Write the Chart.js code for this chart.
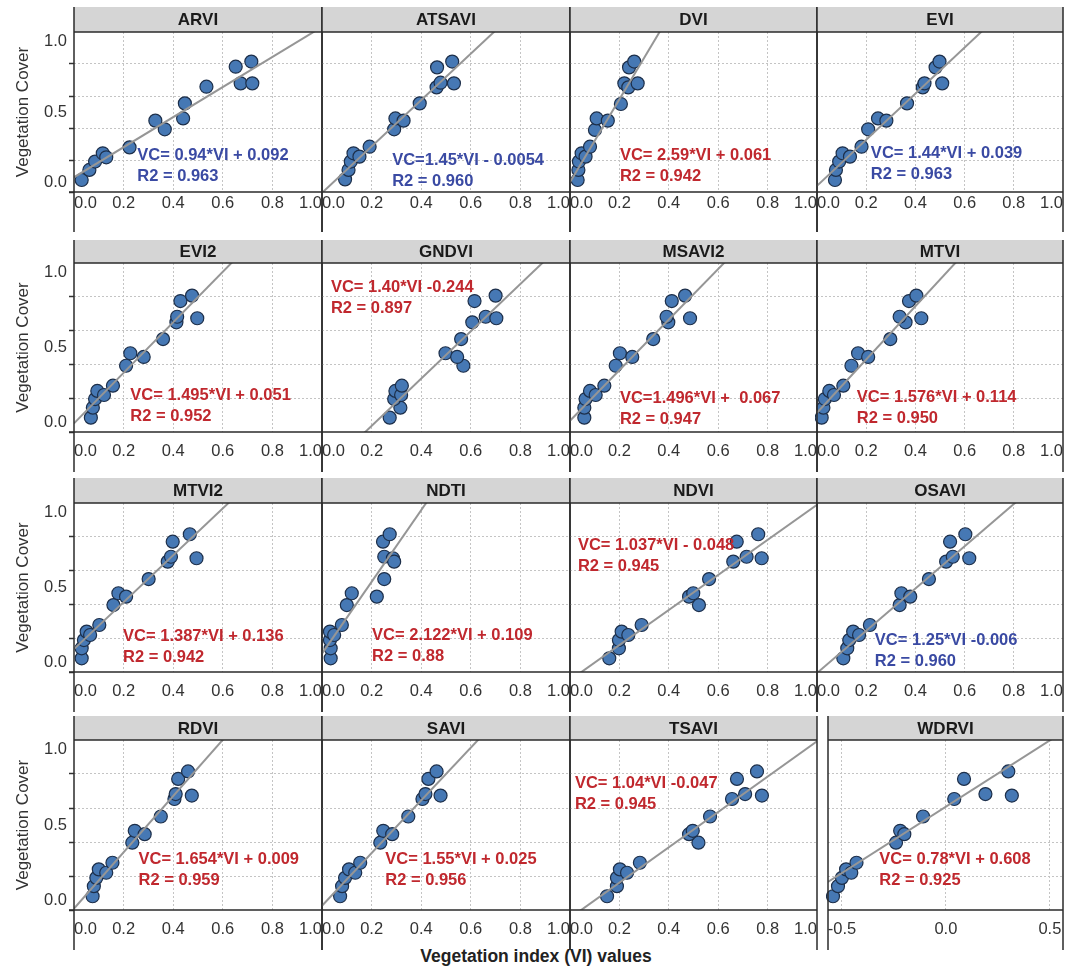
<!DOCTYPE html>
<html>
<head>
<meta charset="utf-8">
<script src="https://cdn.jsdelivr.net/npm/chart.js@4.4.1/dist/chart.umd.min.js"></script>
<style>
  body { margin: 0; background: #fff; width: 1072px; height: 970px; position: relative; overflow: hidden; }
  canvas { position: absolute; }
  #xtitle { position: absolute; left: 0; width: 1072px; top: 946px; text-align: center;
            font: bold 17.5px "Liberation Sans", Arial, sans-serif; color: #222; }
</style>
</head>
<body>
<div id="xtitle">Vegetation index (VI) values</div>
<script>
// panels, fitted equations
const panelNames = ['ARVI', 'ATSAVI', 'DVI', 'EVI', 'EVI2', 'GNDVI', 'MSAVI2', 'MTVI',
                    'MTVI2', 'NDTI', 'NDVI', 'OSAVI', 'RDVI', 'SAVI', 'TSAVI', 'WDRVI'];
const slopes = [0.94, 1.45, 2.59, 1.44, 1.495, 1.40, 1.496, 1.576, 1.387, 2.122, 1.037, 1.25, 1.654, 1.55, 1.04, 0.78];
const intercepts = [0.092, -0.0054, 0.061, 0.039, 0.051, -0.244, 0.067, 0.114, 0.136, 0.109, -0.048, -0.006, 0.009, 0.025, -0.047, 0.608];
const equations = ['VC= 0.94*VI + 0.092', 'VC=1.45*VI - 0.0054', 'VC= 2.59*VI + 0.061', 'VC= 1.44*VI + 0.039',
                   'VC= 1.495*VI + 0.051', 'VC= 1.40*VI -0.244', 'VC=1.496*VI +  0.067', 'VC= 1.576*VI + 0.114',
                   'VC= 1.387*VI + 0.136', 'VC= 2.122*VI + 0.109', 'VC= 1.037*VI - 0.048', 'VC= 1.25*VI -0.006',
                   'VC= 1.654*VI + 0.009', 'VC= 1.55*VI + 0.025', 'VC= 1.04*VI -0.047', 'VC= 0.78*VI + 0.608'];
const r2Values = ['0.963', '0.960', '0.942', '0.963', '0.952', '0.897', '0.947', '0.950',
                  '0.942', '0.88', '0.945', '0.960', '0.959', '0.956', '0.945', '0.925'];
const bluePanels = ['ARVI', 'ATSAVI', 'EVI', 'OSAVI'];

// tick labels
const xTicksUnit = [0, 0.2, 0.4, 0.6, 0.8, 1.0];
const xTicksWDRVI = [-0.5, 0, 0.5];
const yTicks = [0, 0.2, 0.4, 0.5, 0.6, 0.8, 1.0];

// points: vegetation index / vegetation cover
const ARVI_VI = [0.031, 0.062, 0.085, 0.116, 0.13, 0.224, 0.328, 0.366, 0.44, 0.447, 0.534, 0.652, 0.672, 0.715, 0.719];
const ARVI_VC = [0.075, 0.138, 0.19, 0.242, 0.217, 0.279, 0.446, 0.392, 0.46, 0.554, 0.658, 0.783, 0.679, 0.815, 0.679];
const ATSAVI_VI = [0.093, 0.107, 0.116, 0.127, 0.151, 0.192, 0.291, 0.296, 0.329, 0.394, 0.462, 0.478, 0.464, 0.525, 0.532];
const ATSAVI_VC = [0.079, 0.138, 0.19, 0.242, 0.221, 0.283, 0.392, 0.46, 0.446, 0.554, 0.654, 0.683, 0.779, 0.815, 0.679];
const DVI_VI = [0.031, 0.034, 0.036, 0.047, 0.063, 0.081, 0.101, 0.108, 0.153, 0.206, 0.22, 0.236, 0.239, 0.26, 0.274];
const DVI_VC = [0.075, 0.138, 0.19, 0.242, 0.221, 0.283, 0.388, 0.46, 0.446, 0.55, 0.679, 0.654, 0.779, 0.815, 0.679];
const EVI_VI = [0.073, 0.077, 0.09, 0.104, 0.134, 0.181, 0.208, 0.248, 0.282, 0.366, 0.43, 0.437, 0.482, 0.498, 0.509];
const EVI_VC = [0.075, 0.138, 0.19, 0.242, 0.221, 0.283, 0.392, 0.46, 0.446, 0.554, 0.654, 0.679, 0.779, 0.815, 0.679];
const EVI2_VI = [0.068, 0.076, 0.085, 0.094, 0.121, 0.157, 0.21, 0.227, 0.281, 0.359, 0.413, 0.416, 0.429, 0.476, 0.497];
const EVI2_VC = [0.085, 0.144, 0.195, 0.243, 0.219, 0.274, 0.392, 0.466, 0.444, 0.55, 0.649, 0.682, 0.775, 0.807, 0.673];
const GNDVI_VI = [0.273, 0.316, 0.291, 0.296, 0.319, 0.322, 0.57, 0.498, 0.545, 0.561, 0.606, 0.66, 0.615, 0.70, 0.703];
const GNDVI_VC = [0.085, 0.144, 0.195, 0.243, 0.219, 0.274, 0.392, 0.466, 0.444, 0.55, 0.649, 0.682, 0.775, 0.807, 0.673];
const MSAVI2_VI = [0.058, 0.058, 0.063, 0.081, 0.104, 0.139, 0.185, 0.202, 0.252, 0.337, 0.398, 0.391, 0.412, 0.466, 0.486];
const MSAVI2_VC = [0.085, 0.144, 0.195, 0.243, 0.219, 0.274, 0.392, 0.466, 0.444, 0.55, 0.649, 0.682, 0.775, 0.807, 0.673];
const MTVI_VI = [0.019, 0.026, 0.032, 0.05, 0.069, 0.107, 0.14, 0.167, 0.208, 0.298, 0.36, 0.336, 0.374, 0.404, 0.424];
const MTVI_VC = [0.085, 0.144, 0.195, 0.243, 0.219, 0.274, 0.392, 0.466, 0.444, 0.55, 0.649, 0.682, 0.775, 0.807, 0.673];
const MTVI2_VI = [0.031, 0.031, 0.04, 0.051, 0.065, 0.102, 0.159, 0.179, 0.21, 0.301, 0.378, 0.391, 0.398, 0.467, 0.494];
const MTVI2_VC = [0.081, 0.14, 0.189, 0.239, 0.219, 0.278, 0.396, 0.466, 0.446, 0.55, 0.653, 0.682, 0.771, 0.815, 0.673];
const NDTI_VI = [0.035, 0.035, 0.032, 0.032, 0.049, 0.08, 0.1, 0.12, 0.221, 0.251, 0.251, 0.286, 0.291, 0.246, 0.273];
const NDTI_VC = [0.081, 0.14, 0.189, 0.239, 0.219, 0.278, 0.396, 0.466, 0.446, 0.55, 0.682, 0.673, 0.653, 0.771, 0.815];
const NDVI_VI = [0.159, 0.198, 0.198, 0.209, 0.236, 0.29, 0.522, 0.482, 0.499, 0.563, 0.661, 0.715, 0.675, 0.762, 0.776];
const NDVI_VC = [0.081, 0.14, 0.189, 0.239, 0.219, 0.278, 0.396, 0.446, 0.466, 0.55, 0.653, 0.682, 0.771, 0.815, 0.673];
const OSAVI_VI = [0.107, 0.123, 0.131, 0.147, 0.171, 0.215, 0.336, 0.343, 0.379, 0.455, 0.525, 0.552, 0.541, 0.603, 0.619];
const OSAVI_VC = [0.081, 0.14, 0.189, 0.239, 0.219, 0.278, 0.396, 0.466, 0.446, 0.55, 0.653, 0.682, 0.771, 0.815, 0.673];
const RDVI_VI = [0.075, 0.08, 0.09, 0.1, 0.13, 0.155, 0.235, 0.245, 0.285, 0.35, 0.405, 0.41, 0.42, 0.46, 0.475];
const RDVI_VC = [0.081, 0.14, 0.189, 0.239, 0.219, 0.278, 0.396, 0.466, 0.446, 0.55, 0.653, 0.682, 0.771, 0.815, 0.673];
const SAVI_VI = [0.073, 0.081, 0.093, 0.109, 0.134, 0.154, 0.235, 0.247, 0.283, 0.348, 0.405, 0.417, 0.429, 0.462, 0.478];
const SAVI_VC = [0.081, 0.14, 0.189, 0.239, 0.219, 0.278, 0.396, 0.466, 0.446, 0.55, 0.653, 0.682, 0.771, 0.815, 0.673];
const TSAVI_VI = [0.15, 0.19, 0.19, 0.202, 0.231, 0.283, 0.52, 0.482, 0.497, 0.567, 0.656, 0.709, 0.676, 0.757, 0.777];
const TSAVI_VC = [0.081, 0.14, 0.189, 0.239, 0.219, 0.278, 0.396, 0.446, 0.466, 0.55, 0.653, 0.682, 0.771, 0.815, 0.673];
const WDRVI_VI = [-0.543, -0.519, -0.5, -0.48, -0.455, -0.43, -0.24, -0.22, -0.2, -0.11, 0.04, 0.19, 0.087, 0.30, 0.317];
const WDRVI_VC = [0.081, 0.14, 0.189, 0.239, 0.219, 0.278, 0.396, 0.466, 0.446, 0.55, 0.653, 0.682, 0.771, 0.815, 0.673];

const seriesVI = [ARVI_VI, ATSAVI_VI, DVI_VI, EVI_VI, EVI2_VI, GNDVI_VI, MSAVI2_VI, MTVI_VI,
                  MTVI2_VI, NDTI_VI, NDVI_VI, OSAVI_VI, RDVI_VI, SAVI_VI, TSAVI_VI, WDRVI_VI];
const seriesVC = [ARVI_VC, ATSAVI_VC, DVI_VC, EVI_VC, EVI2_VC, GNDVI_VC, MSAVI2_VC, MTVI_VC,
                  MTVI2_VC, NDTI_VC, NDVI_VC, OSAVI_VC, RDVI_VC, SAVI_VC, TSAVI_VC, WDRVI_VC];

// layout (pixels)
const stripTops = [7, 240, 478, 716];
const plotTops = [32, 263, 503, 740];
const plotBottoms = [192, 432, 672, 910];
const labelPad = [2, 10, 10, 10];
const colLefts = [74, 322, 570, 817];
const colRights = [322, 570, 817, 1063];
const wdrviLeft = 828;
// equation anchor, in data units of each panel
const notePos = [[0.255, 0.231], [0.283, 0.2], [0.202, 0.231], [0.219, 0.244],
                 [0.227, 0.219], [0.036, 0.858], [0.202, 0.201], [0.162, 0.207],
                 [0.198, 0.213], [0.202, 0.219], [0.032, 0.751], [0.235, 0.189],
                 [0.26, 0.3], [0.255, 0.3], [0.02, 0.745], [-0.32, 0.3]];

const FONT = '"Liberation Sans", Arial, sans-serif';
Chart.defaults.font.family = FONT;

const facet = {
  id: 'facet',
  beforeDraw(chart, args, o) {
    const {ctx, chartArea: a} = chart;
    ctx.save();
    ctx.fillStyle = '#d5d5d5';
    ctx.fillRect(a.left, a.top - o.strip, a.right - a.left, o.strip);
    ctx.restore();
  },
  afterDatasetsDraw(chart, args, o) {
    const {ctx, chartArea: a, scales} = chart;
    ctx.save();
    ctx.font = 'bold 17px ' + FONT;
    ctx.fillStyle = '#1a1a1a';
    ctx.textAlign = 'center';
    ctx.textBaseline = 'middle';
    ctx.fillText(o.title, (a.left + a.right) / 2, a.top - o.strip / 2 + 1);

    ctx.font = 'bold 16.5px ' + FONT;
    ctx.fillStyle = o.color;
    ctx.textAlign = 'left';
    const px = scales.x.getPixelForValue(o.note[0]);
    const py = scales.y.getPixelForValue(o.note[1]);
    ctx.fillText(o.eq, px, py);
    ctx.fillText('R2 = ' + o.r2, px, py + 21);

    ctx.strokeStyle = '#2b2b2b';
    ctx.lineWidth = 1.5;
    ctx.beginPath();
    ctx.moveTo(a.left, a.top - o.strip); ctx.lineTo(a.left, a.bottom + 40);
    ctx.moveTo(a.right, a.top - o.strip); ctx.lineTo(a.right, a.bottom + 40);
    ctx.moveTo(a.left, a.top); ctx.lineTo(a.right, a.top);
    ctx.moveTo(a.left - (o.first ? 5 : 0), a.bottom); ctx.lineTo(a.right, a.bottom);
    ctx.stroke();
    ctx.restore();
  }
};

function near(v, list) { return list.some(t => Math.abs(t - v) < 1e-6); }

function makePanel(i) {
  const row = Math.floor(i / 4), col = i % 4;
  const name = panelNames[i];
  const isW = name === 'WDRVI';
  const first = col === 0;
  const pl = isW ? wdrviLeft : colLefts[col];
  const pr = colRights[col];
  const cLeft = first ? 0 : pl - 2;
  const cTop = stripTops[row] - 2;
  const w = pr + 2 - cLeft;
  const h = plotBottoms[row] + 42 - cTop;
  const xMin = isW ? -0.567 : 0, xMax = isW ? 0.563 : 1;
  const xTicks = isW ? xTicksWDRVI : xTicksUnit;

  const cv = document.createElement('canvas');
  cv.width = w; cv.height = h;
  cv.style.left = cLeft + 'px'; cv.style.top = cTop + 'px';
  cv.style.width = w + 'px'; cv.style.height = h + 'px';
  document.body.appendChild(cv);

  const m = slopes[i], b = intercepts[i];
  const pts = seriesVI[i].map((v, k) => ({x: v, y: seriesVC[i][k]}));

  new Chart(cv, {
    type: 'scatter',
    data: {
      datasets: [{
        type: 'line',
        data: [{x: xMin, y: m * xMin + b}, {x: xMax, y: m * xMax + b}],
        borderColor: 'rgba(150,150,150,1)',
        borderWidth: 2,
        pointRadius: 0,
        clip: 0
      }, {
        data: pts,
        backgroundColor: 'rgba(70,120,180,1)',
        borderColor: '#1d2f4a',
        borderWidth: 1.2,
        pointRadius: 6.5,
        clip: false
      }]
    },
    options: {
      responsive: false,
      animation: false,
      devicePixelRatio: 1,
      layout: {
        autoPadding: false,
        padding: {left: first ? 0 : 2, right: 2, top: 2 + plotTops[row] - stripTops[row], bottom: 2}
      },
      plugins: {
        legend: {display: false},
        tooltip: {enabled: false},
        facet: {
          title: name, strip: plotTops[row] - stripTops[row], first: first,
          eq: equations[i], r2: r2Values[i], note: notePos[i],
          color: bluePanels.includes(name) ? '#3a4aa3' : '#c0282e'
        }
      },
      scales: {
        x: {
          type: 'linear', min: xMin, max: xMax,
          afterBuildTicks: s => { s.ticks = xTicks.map(v => ({value: v})); },
          afterFit: s => { s.height = 40; s.paddingLeft = 0; s.paddingRight = 0; },
          border: {display: false, dash: [2, 2]},
          grid: {
            drawTicks: false,
            lineWidth: 1,
            color: c => (c.tick && (c.tick.value <= xMin + 1e-6 || c.tick.value >= xMax - 1e-6)) ? 'rgba(0,0,0,0)' : '#c4c4c4'
          },
          ticks: {
            align: isW ? 'center' : 'inner',
            padding: labelPad[row],
            maxRotation: 0,
            autoSkip: false,
            color: '#333',
            font: {size: 16.5},
            callback: v => v.toFixed(1)
          }
        },
        y: {
          type: 'linear', min: 0, max: 1,
          afterBuildTicks: s => { s.ticks = yTicks.map(v => ({value: v})); },
          afterFit: s => { s.width = first ? 74 : 0; s.paddingTop = 0; s.paddingBottom = 0; },
          border: {display: false, dash: [2, 2]},
          grid: {
            drawTicks: first,
            tickLength: 5,
            tickWidth: 1.5,
            lineWidth: 1,
            color: c => (c.tick && near(c.tick.value, [0.2, 0.4, 0.6, 0.8])) ? '#c4c4c4' : 'rgba(0,0,0,0)',
            tickColor: c => (c.tick && near(c.tick.value, [0, 0.2, 0.4, 0.6, 0.8])) ? '#333' : 'rgba(0,0,0,0)'
          },
          title: {
            display: first,
            text: 'Vegetation Cover',
            color: '#333',
            font: {size: 17},
            padding: {top: 13, bottom: 0}
          },
          ticks: {
            display: first,
            padding: 2,
            autoSkip: false,
            color: '#333',
            font: {size: 16.5},
            callback: v => {
              if (near(v, [0])) return ['0.0', ''];
              if (near(v, [1])) return ['', '1.0'];
              if (near(v, [0.5])) return '0.5';
              return '';
            }
          }
        }
      }
    },
    plugins: [facet]
  });
}

for (let i = 0; i < panelNames.length; i++) makePanel(i);
</script>
</body>
</html>
